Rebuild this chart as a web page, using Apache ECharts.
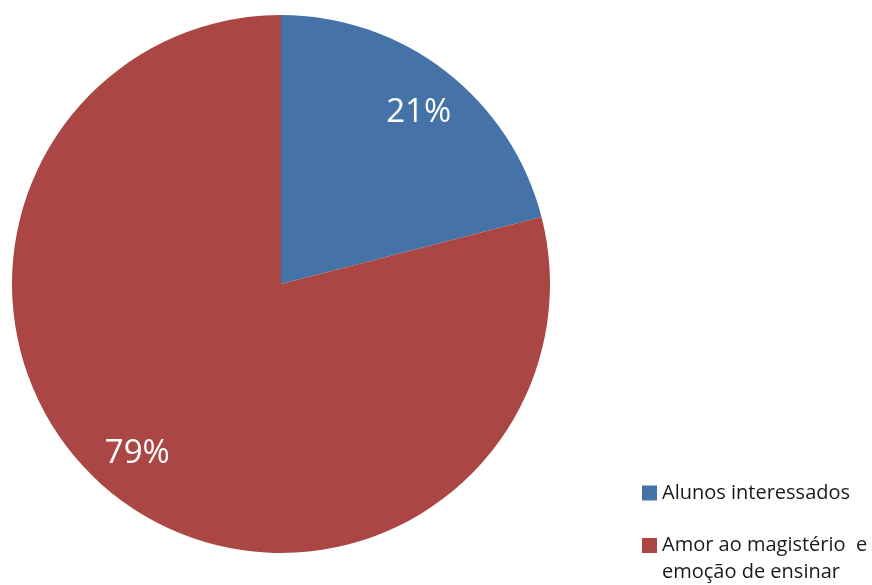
<!DOCTYPE html>
<html>
<head>
<meta charset="utf-8">
<script src="https://cdn.jsdelivr.net/npm/echarts@6/dist/echarts.min.js"></script>
<style>
  html, body { margin: 0; padding: 0; background: #ffffff; }
  #chart { width: 872px; height: 585px; }
</style>
</head>
<body>
<div id="chart"></div>
<script>
// Motivos citados (percentual)
const categories = ['Alunos interessados', 'Amor ao magistério  e emoção de ensinar'];
const values = [21, 79];
const colors = ['#4572A7', '#AA4643'];

const FONT = '"Open Sans", "DejaVu Sans", sans-serif';
const pieData = categories.map((name, i) => ({ name, value: values[i], itemStyle: { color: colors[i] } }));
// small nudges for the percentage labels
const labelNudge = [[1, 5], [-7, -7]];

const chart = echarts.init(document.getElementById('chart'), null, { renderer: 'canvas' });
chart.setOption({
  backgroundColor: '#ffffff',
  animation: false,
  legend: [
    {
      orient: 'vertical', left: 642, top: 483, padding: 0,
      itemWidth: 15, itemHeight: 15, icon: 'rect',
      data: [{ name: categories[0], itemStyle: { color: colors[0] } }],
      textStyle: { fontFamily: FONT, fontSize: 20, color: '#1a1a1a' },
      selectedMode: false
    },
    {
      orient: 'vertical', left: 642, top: 505, padding: 0,
      itemWidth: 15, itemHeight: 15, icon: 'rect',
      data: [{ name: categories[1], itemStyle: { color: colors[1] } }],
      // blank first line keeps the first text line level with the swatch
      formatter: name => '\n' + name.replace('  e ', '  e\n'),
      textStyle: { fontFamily: FONT, fontSize: 20, color: '#1a1a1a', lineHeight: 27 },
      selectedMode: false
    }
  ],
  series: [
    {
      type: 'pie',
      center: [281, 284],
      radius: 269,
      startAngle: 90,
      clockwise: true,
      silent: true,
      label: { show: false },
      labelLine: { show: false },
      itemStyle: { borderWidth: 0 },
      data: pieData
    },
    {
      // ring used only to place the percentage labels
      type: 'pie',
      center: [281, 284],
      radius: [200, 240],
      startAngle: 90,
      clockwise: true,
      silent: true,
      legendHoverLink: false,
      itemStyle: { color: 'rgba(0,0,0,0)', borderWidth: 0 },
      label: {
        show: true, position: 'inside', formatter: '{d}%',
        color: '#ffffff', fontFamily: FONT, fontSize: 33
      },
      labelLine: { show: false },
      data: categories.map((name, i) => ({ name, value: values[i], label: { offset: labelNudge[i] } }))
    }
  ]
});
</script>
</body>
</html>
